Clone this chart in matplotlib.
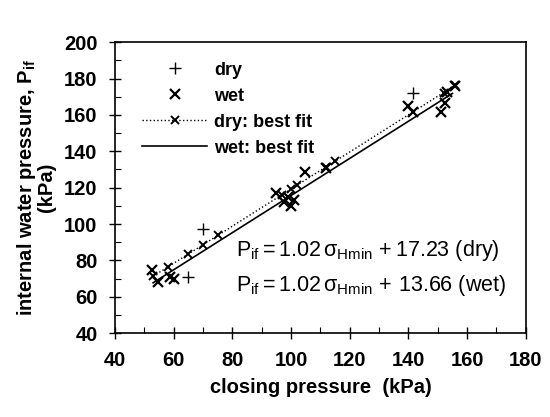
import matplotlib
matplotlib.use("Agg")
import matplotlib.pyplot as plt
from matplotlib.ticker import MultipleLocator

plt.rcParams['font.family'] = ['Liberation Sans', 'DejaVu Sans']
plt.rcParams['mathtext.fontset'] = 'custom'
plt.rcParams['mathtext.rm'] = 'Liberation Sans'
plt.rcParams['mathtext.it'] = 'Liberation Sans'
plt.rcParams['mathtext.bf'] = 'Liberation Sans:bold'

# dry data (+)
dry_x = [65, 70, 141.6]
dry_y = [71, 97.5, 172.3]
# wet data (x)
wet_x = [52.5, 54.7, 58.7, 60, 95, 97.5, 99, 100, 101, 104.7, 112, 140, 141.6, 151, 152.4, 153, 156]
wet_y = [74.6, 68.2, 70.9, 70, 117, 112, 115, 110, 113, 128.6, 131, 165, 161.6, 161.6, 166.5, 172.6, 175.7]
# dry best fit (dotted, x markers on the line)
dryfit_x = [53, 58, 65, 70, 75, 97, 100, 102, 112, 115, 152, 156]
dryfit_y = [71.3, 76.4, 83.5, 88.6, 93.7, 116.2, 119.2, 121.3, 131.5, 134.5, 172.3, 176.4]
# wet best fit (solid)
wetfit_x = [53, 155]
wetfit_y = [67.7, 171.8]

xticks = [40, 60, 80, 100, 120, 140, 160, 180]
yticks = [40, 60, 80, 100, 120, 140, 160, 180, 200]

fig = plt.figure(figsize=(5.5, 4.17), dpi=100)
ax = fig.add_axes([0.209, 0.201, 0.747, 0.698])

ax.plot(dry_x, dry_y, linestyle='none', marker='+', color='black', markersize=8, mew=1.0, label='dry')
ax.plot(wet_x, wet_y, linestyle='none', marker='x', color='black', markersize=7, mew=1.6, label='wet')
ax.plot(dryfit_x, dryfit_y, linestyle=':', marker='x', color='black', markersize=6, mew=1.4, lw=1.0, label='dry: best fit')
ax.plot(wetfit_x, wetfit_y, linestyle='-', color='black', lw=1.2, label='wet: best fit')

ax.set_xlim(40, 180)
ax.set_ylim(40, 200)
ax.set_xticks(xticks)
ax.set_yticks(yticks)
ax.xaxis.set_minor_locator(MultipleLocator(10))
ax.yaxis.set_minor_locator(MultipleLocator(10))
ax.tick_params(which='major', direction='inout', length=9, width=1.0, labelsize=14.5, pad=8)
ax.tick_params(which='minor', direction='in', length=4, width=0.8)
for lab in ax.get_xticklabels() + ax.get_yticklabels():
    lab.set_fontweight('bold')
for s in ax.spines.values():
    s.set_linewidth(1.2)

ax.set_xlabel('closing pressure  (kPa)', fontsize=14.5, fontweight='bold', labelpad=6)
ax.set_ylabel('internal water pressure, P$_{\\mathbf{if}}$\n(kPa)', fontsize=14.5, fontweight='bold', labelpad=6, linespacing=0.9)

leg = ax.legend(loc='upper left', bbox_to_anchor=(0.04, 0.97), frameon=False,
                prop={'size': 13, 'weight': 'bold'},
                handlelength=3.6, handletextpad=0.4, labelspacing=0.5, borderaxespad=0.2)

ax.text(0.295, 0.285, r'$\mathregular{P_{if} = 1.02\,\sigma_{Hmin}\,+17.23\ (dry)}$', transform=ax.transAxes,
        fontsize=15.5, va='center', ha='left')
ax.text(0.295, 0.165, r'$\mathregular{P_{if} = 1.02\,\sigma_{Hmin}\,+\,13.66\ (wet)}$', transform=ax.transAxes,
        fontsize=15.5, va='center', ha='left')

fig.savefig('out.png', dpi=100)
